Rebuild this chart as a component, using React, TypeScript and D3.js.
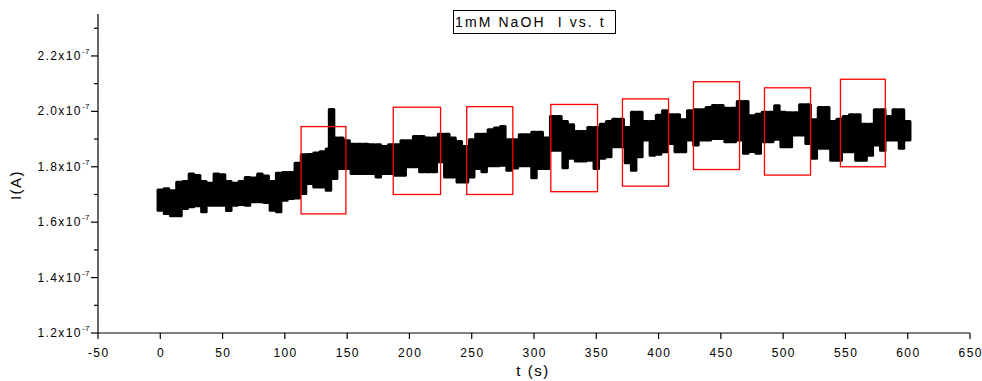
import React from "react";
import * as d3 from "d3";

// ---- data (t in s, current in units of 1e-7 A) ----
const times = [0,5,10,15,20,25,30,35,40,45,50,55,60,65,70,75,80,85,90,95,100,105,110,115,120,125,130,135,137.5,140,145,150,155,160,165,170,175,180,185,190,195,200,205,210,215,220,225,230,235,240,245,250,255,260,265,270,275,280,285,290,295,300,305,310,315,320,325,330,335,340,345,350,355,360,365,370,375,380,385,390,395,400,405,410,415,420,425,430,435,440,445,450,455,460,465,470,475,480,485,490,495,500,505,510,515,520,525,530,535,540,545,550,555,560,565,570,575,580,585,590,595,600];
const upper = [1.722,1.726,1.719,1.750,1.752,1.779,1.774,1.752,1.746,1.779,1.777,1.752,1.746,1.752,1.767,1.765,1.779,1.772,1.752,1.782,1.785,1.785,1.818,1.849,1.850,1.855,1.860,1.870,2.012,1.909,1.909,1.899,1.887,1.887,1.887,1.885,1.885,1.879,1.885,1.885,1.899,1.899,1.915,1.915,1.909,1.909,1.923,1.923,1.909,1.897,1.879,1.903,1.923,1.923,1.939,1.945,1.951,1.903,1.903,1.921,1.921,1.930,1.930,1.909,1.987,1.987,1.969,1.957,1.933,1.933,1.947,1.947,1.959,1.969,1.977,1.977,1.947,2.002,2.002,1.969,1.969,1.991,2.008,1.993,1.993,1.975,2.008,2.011,2.011,2.019,2.027,2.027,2.017,2.017,2.041,2.041,1.990,1.995,2.002,2.002,2.026,2.002,2.000,2.000,2.029,2.029,1.975,2.019,2.019,1.969,1.977,1.987,1.993,1.993,1.959,1.959,2.011,2.011,1.987,2.011,2.011,1.969];
const lower = [1.638,1.626,1.618,1.618,1.644,1.650,1.654,1.632,1.656,1.656,1.656,1.637,1.656,1.658,1.656,1.668,1.668,1.666,1.638,1.632,1.674,1.680,1.682,1.698,1.734,1.722,1.722,1.710,1.850,1.752,1.788,1.788,1.770,1.770,1.770,1.770,1.758,1.770,1.770,1.764,1.764,1.795,1.795,1.777,1.777,1.777,1.813,1.758,1.758,1.740,1.740,1.758,1.788,1.777,1.798,1.798,1.800,1.782,1.790,1.798,1.798,1.755,1.788,1.788,1.854,1.854,1.791,1.825,1.815,1.815,1.818,1.788,1.825,1.831,1.867,1.867,1.809,1.782,1.831,1.891,1.836,1.840,1.849,1.879,1.849,1.849,1.891,1.873,1.891,1.891,1.897,1.897,1.885,1.885,1.891,1.843,1.850,1.843,1.885,1.885,1.894,1.867,1.867,1.909,1.909,1.879,1.825,1.861,1.861,1.818,1.818,1.849,1.849,1.818,1.818,1.836,1.873,1.854,1.891,1.891,1.861,1.891];

// highlight boxes
const boxT0 = [113, 187, 246, 313.5, 371, 428, 485, 546];
const boxT1 = [149, 225, 283, 351, 408, 465, 522, 582];
const boxLo = [1.63, 1.70, 1.70, 1.71, 1.73, 1.79, 1.77, 1.80];
const boxHi = [1.945, 2.015, 2.017, 2.025, 2.045, 2.107, 2.085, 2.116];

const xTicks = [-50,0,50,100,150,200,250,300,350,400,450,500,550,600,650];
const yTicks = [1.2,1.4,1.6,1.8,2.0,2.2];
const yMinor = [1.3,1.5,1.7,1.9,2.1,2.3];

const title = "1mM NaOH  I vs. t";
const xLabel = "t (s)";
const yLabel = "I(A)";

const W = 982, H = 381;
const FONT = "'Liberation Sans', Arial, sans-serif";

export default function App() {
  const x = d3.scaleLinear().domain([-50, 650]).range([98, 970]);
  const y = d3.scaleLinear().domain([1.2, 2.35]).range([333, 14.4]);
  const bw = 7.5;

  return (
    <svg width={W} height={H} style={{ position: "absolute", left: 0, top: 0, background: "#fff" }}
      fontFamily={FONT}>
      <rect x={0} y={0} width={W} height={H} fill="#fff" />
      {/* data band */}
      <g fill="#000">
        {times.map((t, i) => (
          <rect key={i} x={x(t) - bw / 2} y={y(upper[i])} width={bw}
            height={y(lower[i]) - y(upper[i])} rx={1.5} />
        ))}
      </g>
      {/* red boxes */}
      <g fill="none" stroke="#ff0000" strokeWidth={1.3}>
        {boxT0.map((t0, i) => (
          <rect key={i} x={x(t0)} y={y(boxHi[i])} width={x(boxT1[i]) - x(t0)}
            height={y(boxLo[i]) - y(boxHi[i])} />
        ))}
      </g>
      {/* axes */}
      <g stroke="#000" strokeWidth={1.2}>
        <line x1={x(-50)} x2={x(-50)} y1={14} y2={y(1.2)} />
        <line x1={x(-50)} x2={x(650)} y1={y(1.2)} y2={y(1.2)} />
        {xTicks.map((t) => (
          <line key={t} x1={x(t)} x2={x(t)} y1={y(1.2)} y2={y(1.2) + 6} />
        ))}
        {yTicks.map((v) => (
          <line key={v} x1={x(-50) - 7} x2={x(-50)} y1={y(v)} y2={y(v)} />
        ))}
        {yMinor.map((v) => (
          <line key={v} x1={x(-50) - 4} x2={x(-50)} y1={y(v)} y2={y(v)} />
        ))}
      </g>
      <g fontSize={12} fill="#000" letterSpacing={1.4}>
        {xTicks.map((t) => (
          <text key={t} x={x(t) + 0.7} y={357} textAnchor="middle">{t}</text>
        ))}
        {yTicks.map((v) => (
          <text key={v} x={90} y={y(v) + 4} textAnchor="end">
            {v.toFixed(1) + "x10"}
            <tspan fontSize={8} letterSpacing={0.5} dy={-6}>-7</tspan>
          </text>
        ))}
      </g>
      <text x={533} y={376} textAnchor="middle" fontSize={15} letterSpacing={1.5}>{xLabel}</text>
      <text transform={`translate(21,185) rotate(-90)`} textAnchor="middle" fontSize={15} letterSpacing={1.5}>{yLabel}</text>
      {/* title box */}
      <rect x={453.5} y={10.5} width={162} height={23} fill="#fff" stroke="#000" strokeWidth={1} />
      <text x={455} y={27} fontSize={14} letterSpacing={2.1} style={{ whiteSpace: "pre" }}>{title}</text>
    </svg>
  );
}
